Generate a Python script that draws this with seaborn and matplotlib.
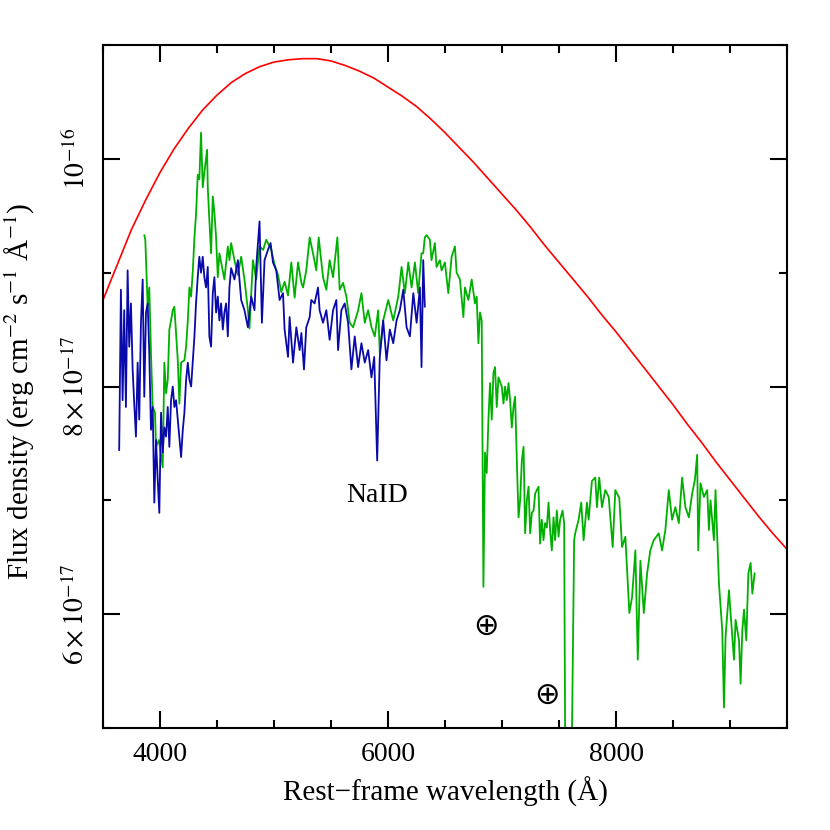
import numpy as np
import pandas as pd
import matplotlib
matplotlib.use('Agg')
import matplotlib.pyplot as plt
import seaborn as sns
from matplotlib.ticker import MultipleLocator

# flux values in units of 1e-17 erg/cm2/s/A
bb_wl = [3500, 3625, 3750, 3875, 4000, 4125, 4250, 4375, 4500, 4625, 4750, 4875, 5000, 5125,
         5250, 5375, 5500, 5625, 5750, 5875, 6000, 6125, 6250, 6375, 6500, 6625, 6750, 6875,
         7000, 7125, 7250, 7375, 7500, 7625, 7750, 7875, 8000, 8125, 8250, 8375, 8500, 8625,
         8750, 8875, 9000, 9125, 9250, 9375, 9500]
bb_flux = [8.76, 9.07, 9.38, 9.64, 9.88, 10.09, 10.27, 10.43, 10.56, 10.67, 10.75, 10.81, 10.85, 10.87,
           10.88, 10.88, 10.86, 10.82, 10.77, 10.71, 10.63, 10.55, 10.46, 10.35, 10.23, 10.10, 9.97, 9.83,
           9.69, 9.55, 9.40, 9.24, 9.09, 8.94, 8.79, 8.63, 8.48, 8.32, 8.16, 8.00, 7.84, 7.67,
           7.51, 7.34, 7.18, 7.02, 6.86, 6.71, 6.57]

green_wl = [3862, 3871, 3892, 3906, 3921, 3936, 3956, 3965, 3991, 4024, 4038, 4053, 4068, 4082,
            4097, 4112, 4126, 4141, 4156, 4170, 4185, 4214, 4229, 4244, 4258, 4273, 4288, 4302,
            4316, 4331, 4345, 4360, 4375, 4389, 4413, 4419, 4433, 4448, 4463, 4477, 4492, 4507,
            4521, 4536, 4565, 4595, 4609, 4624, 4653, 4683, 4712, 4741, 4771, 4785, 4815, 4844,
            4873, 4905, 4932, 4976, 5005, 5035, 5064, 5093, 5123, 5152, 5181, 5211, 5240, 5255,
            5283, 5313, 5342, 5371, 5392, 5430, 5459, 5488, 5518, 5556, 5576, 5606, 5635, 5664,
            5694, 5738, 5767, 5796, 5826, 5855, 5884, 5914, 5928, 5958, 6002, 6046, 6090, 6119,
            6148, 6178, 6207, 6236, 6265, 6294, 6309, 6323, 6338, 6367, 6382, 6411, 6426, 6455,
            6470, 6499, 6529, 6558, 6587, 6602, 6631, 6661, 6675, 6705, 6734, 6763, 6778, 6793,
            6807, 6822, 6837, 6851, 6866, 6881, 6895, 6910, 6925, 6939, 6954, 6969, 6998, 7013,
            7027, 7042, 7057, 7071, 7086, 7101, 7115, 7130, 7145, 7159, 7174, 7189, 7203, 7218,
            7233, 7247, 7262, 7277, 7291, 7305, 7320, 7334, 7349, 7364, 7378, 7393, 7408, 7422,
            7437, 7452, 7466, 7481, 7496, 7510, 7531, 7545, 7554, 7613, 7633, 7642, 7672, 7695,
            7716, 7745, 7760, 7789, 7818, 7833, 7853, 7877, 7906, 7936, 7971, 7994, 8029, 8053,
            8082, 8117, 8141, 8170, 8191, 8214, 8244, 8273, 8301, 8331, 8375, 8404, 8433, 8463,
            8492, 8521, 8551, 8580, 8609, 8639, 8668, 8692, 8712, 8721, 8741, 8771, 8800, 8815,
            8829, 8859, 8873, 8903, 8932, 8947, 8961, 8991, 9005, 9035, 9049, 9079, 9093, 9108,
            9123, 9143, 9161, 9181, 9196, 9216]
green_flux = [9.33, 9.29, 8.70, 8.87, 8.29, 7.82, 7.77, 7.47, 7.53, 7.29, 8.21, 7.94, 8.06, 8.50,
              8.58, 8.67, 8.70, 8.47, 8.23, 7.85, 8.21, 8.23, 8.35, 8.58, 8.87, 8.79, 9.02, 9.31,
              9.51, 9.86, 9.82, 10.23, 9.75, 9.88, 10.08, 9.75, 9.46, 9.17, 9.67, 9.53, 9.31, 8.96,
              9.17, 9.09, 8.94, 9.23, 9.11, 9.26, 9.11, 8.98, 9.14, 8.94, 8.67, 8.51, 9.11, 8.94,
              9.23, 9.20, 9.29, 9.20, 9.07, 8.98, 8.83, 8.92, 8.80, 9.09, 8.78, 9.09, 8.91, 8.87,
              9.02, 9.31, 9.17, 9.02, 9.31, 8.96, 8.85, 9.11, 8.96, 9.31, 8.85, 8.91, 8.79, 8.56,
              8.52, 8.67, 8.82, 8.56, 8.67, 8.52, 8.44, 8.67, 8.29, 8.58, 8.76, 8.58, 8.79, 9.05,
              8.82, 9.09, 8.87, 9.09, 8.82, 9.17, 9.17, 9.31, 9.33, 9.29, 9.11, 9.26, 9.05, 9.11,
              9.02, 9.09, 8.82, 9.14, 9.23, 9.00, 8.94, 8.61, 8.87, 8.76, 8.94, 8.73, 8.79, 8.38,
              8.65, 8.58, 6.24, 7.42, 7.24, 7.71, 8.03, 7.71, 8.12, 8.17, 7.82, 8.08, 8.00, 7.85,
              8.00, 7.88, 8.03, 7.88, 7.64, 7.82, 7.91, 7.35, 6.85, 7.00, 7.35, 7.47, 6.71, 7.00,
              7.12, 6.71, 6.89, 6.91, 7.06, 7.09, 7.12, 6.62, 6.83, 6.65, 6.80, 6.76, 6.98, 6.74,
              6.56, 6.85, 6.65, 6.91, 6.68, 6.83, 6.91, 6.80, 4.89, 4.89, 6.65, 6.71, 6.83, 6.98,
              6.65, 6.98, 6.83, 7.17, 7.20, 6.94, 7.20, 6.94, 7.09, 7.03, 6.59, 7.09, 7.02, 6.59,
              6.68, 6.01, 6.15, 6.56, 5.60, 6.47, 6.01, 6.36, 6.56, 6.65, 6.71, 6.56, 6.74, 7.09,
              6.83, 6.94, 6.80, 7.20, 6.94, 6.85, 7.06, 7.18, 7.40, 6.56, 7.15, 7.03, 7.09, 6.74,
              7.00, 6.65, 7.09, 6.27, 5.86, 5.18, 5.80, 6.21, 6.01, 5.60, 5.95, 5.77, 5.39, 5.86,
              6.04, 5.77, 6.36, 6.45, 6.18, 6.36]

blue_wl = [3642, 3657, 3672, 3686, 3701, 3716, 3730, 3745, 3760, 3774, 3789, 3804, 3818, 3833,
           3848, 3862, 3877, 3892, 3906, 3921, 3936, 3950, 3965, 3980, 3994, 4009, 4024, 4038,
           4053, 4068, 4082, 4097, 4112, 4126, 4141, 4156, 4170, 4185, 4200, 4214, 4229, 4244,
           4258, 4273, 4288, 4302, 4316, 4331, 4345, 4360, 4375, 4389, 4404, 4419, 4433, 4448,
           4463, 4477, 4492, 4507, 4521, 4536, 4551, 4565, 4580, 4595, 4609, 4624, 4653, 4683,
           4712, 4741, 4771, 4800, 4829, 4844, 4873, 4894, 4917, 4947, 4970, 4991, 5020, 5049,
           5079, 5093, 5123, 5137, 5167, 5196, 5225, 5240, 5263, 5283, 5313, 5327, 5356, 5386,
           5400, 5430, 5459, 5488, 5518, 5547, 5562, 5591, 5620, 5650, 5679, 5708, 5738, 5767,
           5796, 5826, 5855, 5879, 5905, 5928, 5958, 5987, 6016, 6046, 6075, 6104, 6134, 6163,
           6192, 6222, 6251, 6280, 6294, 6309, 6323]
blue_flux = [7.44, 8.85, 7.88, 8.67, 7.82, 9.02, 8.35, 8.73, 8.15, 7.85, 7.56, 8.21, 7.71, 8.56,
             8.94, 7.91, 8.65, 8.73, 8.29, 7.62, 7.82, 6.98, 7.53, 7.18, 6.89, 7.77, 7.42, 7.64,
             7.56, 7.82, 7.47, 7.88, 8.00, 7.82, 7.88, 7.71, 7.56, 7.38, 7.62, 7.77, 8.06, 8.21,
             8.06, 8.00, 8.23, 8.44, 8.73, 8.96, 9.14, 9.00, 9.14, 8.96, 8.87, 9.05, 8.44, 8.35,
             8.82, 8.96, 8.65, 8.79, 8.58, 8.73, 8.50, 8.65, 8.73, 8.44, 8.87, 9.04, 8.94, 9.11,
             8.76, 8.67, 8.52, 8.79, 8.67, 9.05, 9.45, 8.56, 9.11, 9.20, 9.26, 9.09, 9.02, 8.76,
             8.82, 8.50, 8.26, 8.61, 8.21, 8.52, 8.32, 8.47, 8.15, 8.52, 8.61, 8.76, 8.73, 8.87,
             8.67, 8.56, 8.67, 8.41, 8.67, 8.76, 8.32, 8.67, 8.73, 8.56, 8.15, 8.44, 8.17, 8.38,
             8.21, 8.32, 8.08, 8.26, 7.35, 8.26, 8.58, 8.23, 8.50, 8.38, 8.58, 8.67, 8.85, 8.52,
             8.44, 8.82, 8.56, 8.87, 8.17, 9.11, 8.70]

scale = 1e-17
bb = pd.DataFrame({'wl': bb_wl, 'flux': np.array(bb_flux) * scale})
green = pd.DataFrame({'wl': green_wl, 'flux': np.array(green_flux) * scale})
blue = pd.DataFrame({'wl': blue_wl, 'flux': np.array(blue_flux) * scale})

sns.set_style('ticks')
plt.rcParams['font.family'] = ['Liberation Serif', 'DejaVu Serif']
plt.rcParams['mathtext.fontset'] = 'stix'
plt.rcParams['text.color'] = 'black'
plt.rcParams['axes.labelcolor'] = 'black'

fig = plt.figure(figsize=(8.3, 8.3), dpi=100)
ax = fig.add_axes([103/830, 1 - 728/830, 684/830, 683/830])

sns.lineplot(data=bb, x='wl', y='flux', ax=ax, color='#ff0000', lw=1.2, sort=False, estimator=None)
sns.lineplot(data=green, x='wl', y='flux', ax=ax, color='#00b000', lw=1.3, sort=False, estimator=None)
sns.lineplot(data=blue, x='wl', y='flux', ax=ax, color='#0a0aaa', lw=1.3, sort=False, estimator=None)

ax.set_xlim(3500, 9500)
ax.set_ylim(5e-17, 1.1e-16)

ax.xaxis.set_major_locator(MultipleLocator(2000))
ax.xaxis.set_minor_locator(MultipleLocator(500))
ax.yaxis.set_minor_locator(MultipleLocator(1e-17))
ax.set_yticks([6e-17, 8e-17, 1e-16])
ax.set_yticklabels([r'$6\times10^{-17}$', r'$8\times10^{-17}$', r'$10^{-16}$'],
                   rotation=90, va='center')

ax.tick_params(which='both', direction='in', top=True, right=True, width=1.5,
               color='black', labelcolor='black')
ax.tick_params(which='major', length=12, labelsize=20)
ax.tick_params(which='minor', length=6)
ax.tick_params(axis='x', pad=10)
ax.tick_params(axis='y', pad=9)
for s in ax.spines.values():
    s.set_linewidth(1.5)
    s.set_color('black')

ax.set_xlabel('Rest\u2212frame wavelength (\u00c5)', fontsize=21)
ax.xaxis.set_label_coords(0.5, -0.094)
ax.xaxis.label.set_va('center')
ax.set_ylabel('Flux density (erg cm$^{-2}$ s$^{-1}$ \u00c5$^{-1}$)', fontsize=21)
ax.yaxis.set_label_coords(-0.121, 0.492)
ax.yaxis.label.set_va('center')

ax.text(5903, 7.046e-17, 'NaID', ha='center', va='center', fontsize=20)
ax.text(6857, 5.894e-17, '\u2295', ha='center', va='center', fontsize=22, family='DejaVu Sans')
ax.text(7393, 5.29e-17, '\u2295', ha='center', va='center', fontsize=22, family='DejaVu Sans')

fig.savefig('out.png', dpi=100)
